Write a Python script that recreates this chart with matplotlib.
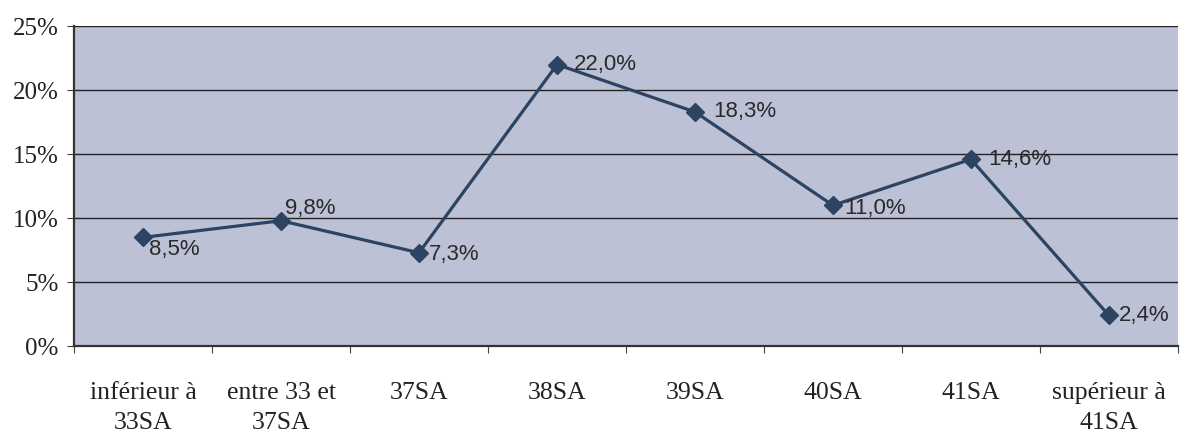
import numpy as np
import matplotlib.pyplot as plt
from matplotlib.ticker import FuncFormatter, MultipleLocator

categories = ["inférieur à\n33SA", "entre 33 et\n37SA", "37SA", "38SA",
              "39SA", "40SA", "41SA", "supérieur à\n41SA"]
values = [8.5, 9.8, 7.3, 22.0, 18.3, 11.0, 14.6, 2.4]
labels = ["8,5%", "9,8%", "7,3%", "22,0%", "18,3%", "11,0%", "14,6%", "2,4%"]
# label offsets in pixels (dx, dy), as placed in the scan
offsets_px = [(6, -12), (4, 12), (10, -2), (17, 0), (18, 0), (11, -3), (17, 0), (10, 0)]

fig = plt.figure(figsize=(11.81, 4.36), dpi=100)
ax = fig.add_axes([0.0627, 0.206, 0.9347, 0.734])
ax.set_facecolor("#bdc1d5")

x = np.arange(len(values))
ax.plot(x, values, color="#2c4362", lw=2.3, marker="D", ms=9, zorder=3)
for xi, v, lab, (dx, dy) in zip(x, values, labels, offsets_px):
    ax.annotate(lab, (xi, v), xytext=(dx * 0.72, dy * 0.72), textcoords="offset points",
                ha="left", va="center", fontsize=16, family="Liberation Sans",
                color="#2a2a2a")

ax.set_xlim(-0.5, 7.5)
ax.set_ylim(0, 25)
ax.yaxis.set_major_locator(MultipleLocator(5))
ax.yaxis.set_major_formatter(FuncFormatter(lambda v, p: f"{v:.0f}%"))
ax.grid(axis="y", color="#222222", lw=1)
ax.set_axisbelow(True)

ax.set_xticks(np.arange(-0.5, 8, 1))
ax.set_xticklabels([])
ax.set_xticks(x, minor=True)
ax.set_xticklabels(categories, minor=True, family="Liberation Serif", fontsize=18.5,
                   color="#222222", linespacing=1.45)
ax.tick_params(axis="x", which="minor", length=0, pad=26)
ax.tick_params(axis="x", which="major", length=5, direction="out", color="#444444")
ax.tick_params(axis="y", length=5, direction="out", color="#444444", pad=6)
for t in ax.get_yticklabels():
    t.set_family("Liberation Serif")
    t.set_fontsize(18)
    t.set_color("#222222")

for s in ["top", "right"]:
    ax.spines[s].set_visible(False)
ax.spines["left"].set_color("#333333")
ax.spines["bottom"].set_color("#333333")
ax.spines["left"].set_linewidth(1.6)
ax.spines["bottom"].set_linewidth(1.6)

fig.savefig("out.png", dpi=100)
